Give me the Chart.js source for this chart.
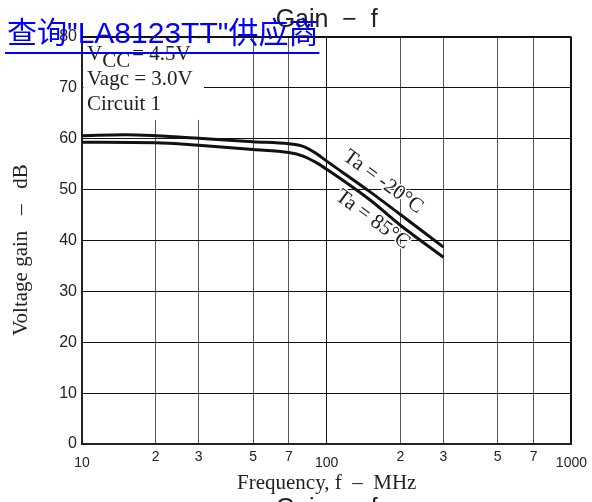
<!DOCTYPE html>
<html>
<head>
<meta charset="utf-8">
<script src="https://cdn.jsdelivr.net/npm/chart.js@4.4.0/dist/chart.umd.min.js"></script>
<style>
  html, body { margin: 0; padding: 0; background: #fff; }
  canvas { display: block; }
</style>
</head>
<body>
<canvas id="gainChart" width="592" height="502"></canvas>
<script>
// tick positions and their printed labels
const xTicks = [10, 20, 30, 50, 70, 100, 200, 300, 500, 700, 1000];
const xTickLabels = ["10", "2", "3", "5", "7", "100", "2", "3", "5", "7", "1000"];
const yTicks = [0, 10, 20, 30, 40, 50, 60, 70, 80];

// Ta = -20°C curve
const freqCold = [10, 15, 20, 30, 50, 70, 80, 90, 100, 150, 200, 300];
const gainCold = [60.6, 60.8, 60.6, 60.1, 59.4, 59.0, 58.5, 57.2, 55.6, 49.6, 45.1, 38.7];
// Ta = 85°C curve
const freqHot = [10, 20, 30, 50, 70, 80, 90, 100, 150, 200, 300];
const gainHot = [59.3, 59.2, 58.7, 57.9, 57.3, 56.6, 55.4, 54.0, 48.0, 43.0, 36.7];

const serif = '"Liberation Serif", "Times New Roman", serif';
const sans = '"Liberation Sans", Arial, sans-serif';

function isDecade(v) {
  return v === 10 || v === 100 || v === 1000;
}

function toPoints(xs, ys) {
  return xs.map((x, i) => ({ x: x, y: ys[i] }));
}

const notesPlugin = {
  id: 'notes',
  beforeDatasetsDraw(chart) {
    const ctx = chart.ctx;
    const x = chart.scales.x, y = chart.scales.y;
    // white box behind the conditions text
    const l = x.getPixelForValue(10) + 1.5;
    const t = y.getPixelForValue(80) + 1.5;
    ctx.save();
    ctx.fillStyle = '#fff';
    ctx.fillRect(l, t, x.getPixelForValue(31.5) - l, y.getPixelForValue(63.7) - t);
    ctx.restore();
  },
  afterDraw(chart) {
    const ctx = chart.ctx;
    const x = chart.scales.x, y = chart.scales.y;
    const area = chart.chartArea;
    const cx = (area.left + area.right) / 2;
    ctx.save();
    ctx.fillStyle = '#222';
    ctx.textBaseline = 'alphabetic';

    // title
    ctx.font = '25px ' + sans;
    ctx.textAlign = 'center';
    ctx.fillText('Gain  \u2212  f', cx, 27);
    ctx.fillText('Gain  \u2212  f', cx, 516);

    // axis titles
    ctx.font = '21px ' + serif;
    ctx.fillText('Frequency, f  \u2013  MHz', cx, 489);
    ctx.save();
    ctx.translate(27, 250);
    ctx.rotate(-Math.PI / 2);
    ctx.fillText('Voltage gain   \u2013   dB', 0, 0);
    ctx.restore();

    // conditions
    ctx.textAlign = 'left';
    const tx = area.left + 5;
    ctx.fillText('V', tx, 60);
    let w = ctx.measureText('V').width;
    ctx.fillText('CC', tx + w, 67);
    w += ctx.measureText('CC').width;
    ctx.fillText('= 4.5V', tx + w + 2, 60);
    ctx.fillText('Vagc = 3.0V', tx, 85);
    ctx.fillText('Circuit 1', tx, 110);

    // curve labels
    ctx.textAlign = 'center';
    ctx.textBaseline = 'middle';
    const labels = [
      { text: 'Ta = -20\u00b0C', f: 170, g: 51.5 },
      { text: 'Ta = 85\u00b0C', f: 154, g: 44.1 }
    ];
    labels.forEach(lb => {
      ctx.save();
      ctx.translate(x.getPixelForValue(lb.f), y.getPixelForValue(lb.g));
      ctx.rotate(36 * Math.PI / 180);
      ctx.strokeStyle = '#fff';
      ctx.lineWidth = 3;
      ctx.strokeText(lb.text, 0, 0);
      ctx.fillText(lb.text, 0, 0);
      ctx.restore();
    });

    // blue link overlay
    ctx.textAlign = 'left';
    ctx.textBaseline = 'alphabetic';
    ctx.fillStyle = '#0000ff';
    ctx.font = '30px "Liberation Sans", "Noto Sans CJK SC", sans-serif';
    const link = '\u67e5\u8be2"LA8123TT"\u4f9b\u5e94\u5546';
    ctx.fillText(link, 7, 43);
    ctx.fillRect(5, 52, ctx.measureText(link).width + 3, 2);
    ctx.restore();
  }
};

new Chart(document.getElementById('gainChart'), {
  type: 'line',
  data: {
    datasets: [
      {
        label: 'Ta = -20°C',
        data: toPoints(freqCold, gainCold),
        borderColor: '#111',
        borderWidth: 3,
        pointRadius: 0,
        cubicInterpolationMode: 'monotone'
      },
      {
        label: 'Ta = 85°C',
        data: toPoints(freqHot, gainHot),
        borderColor: '#111',
        borderWidth: 3,
        pointRadius: 0,
        cubicInterpolationMode: 'monotone'
      }
    ]
  },
  options: {
    responsive: false,
    animation: false,
    devicePixelRatio: 1,
    layout: { padding: { top: 37, right: 19, left: 0, bottom: 0 } },
    plugins: {
      legend: { display: false },
      tooltip: { enabled: false },
      title: { display: false }
    },
    scales: {
      x: {
        type: 'logarithmic',
        min: 10,
        max: 1000,
        afterBuildTicks: scale => { scale.ticks = xTicks.map(v => ({ value: v })); },
        afterFit: scale => { scale.height = 58; },
        border: { color: '#222', width: 2 },
        grid: {
          drawTicks: false,
          color: c => (c.tick && isDecade(c.tick.value)) ? '#111' : '#555',
          lineWidth: c => (c.tick && (c.tick.value === 1000)) ? 2 : 1
        },
        ticks: {
          autoSkip: false,
          maxRotation: 0,
          padding: 5,
          color: '#222',
          font: c => ({ family: sans, size: 14, lineHeight: (c.tick && isDecade(c.tick.value)) ? 2.0 : 1.2 }),
          callback: (value, index) => xTickLabels[index]
        }
      },
      y: {
        min: 0,
        max: 80,
        afterBuildTicks: scale => { scale.ticks = yTicks.map(v => ({ value: v })); },
        afterFit: scale => { scale.width = 82; },
        border: { color: '#222', width: 2 },
        grid: {
          drawTicks: false,
          color: '#111',
          lineWidth: c => (c.tick && c.tick.value === 80) ? 2 : 1
        },
        ticks: {
          padding: 5,
          color: '#222',
          font: { family: sans, size: 16 }
        }
      }
    }
  },
  plugins: [notesPlugin]
});
</script>
</body>
</html>
